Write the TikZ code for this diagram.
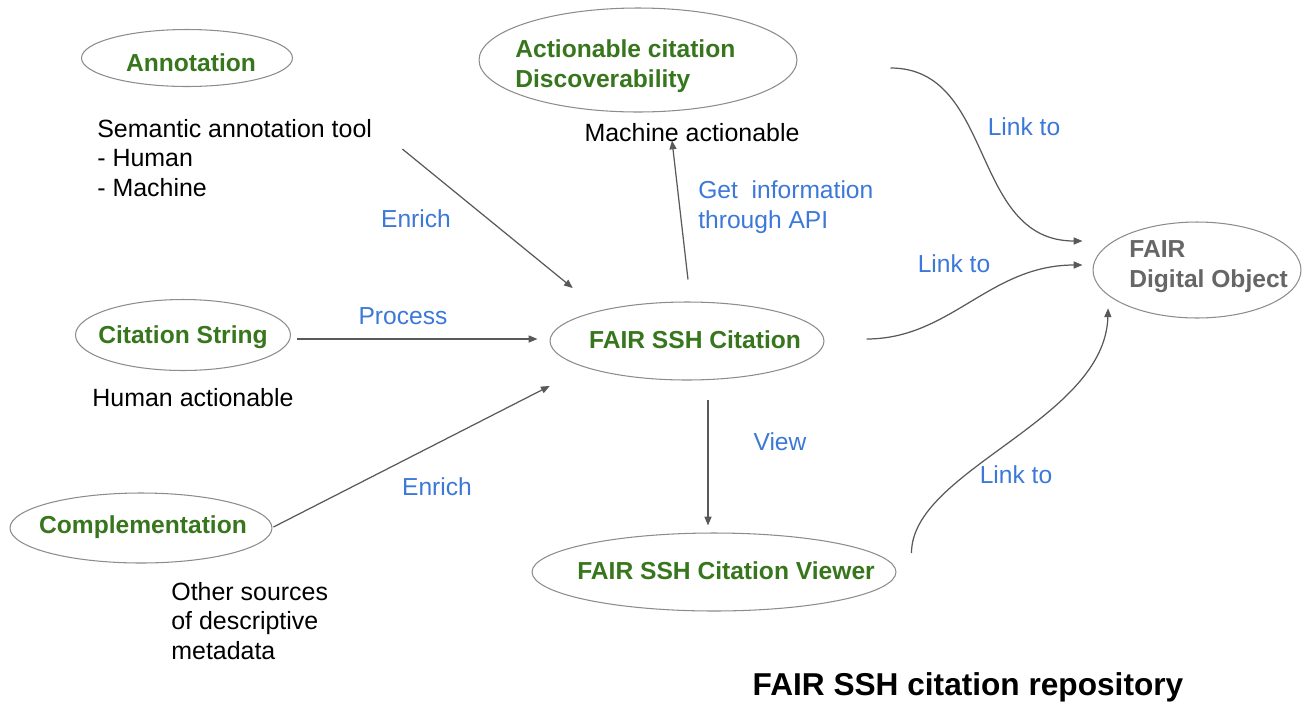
\documentclass[tikz,border=0pt]{standalone}
\usepackage{fontspec}
\setmainfont{Liberation Sans}
\usetikzlibrary{shapes.geometric,arrows.meta,calc}
\definecolor{citegreen}{HTML}{38761D}
\definecolor{linkblue}{HTML}{3C78D8}
\definecolor{fdogray}{HTML}{666666}
\definecolor{rimgray}{HTML}{8C8C8C}
\definecolor{wiregray}{HTML}{595959}
\tikzset{
  blob/.style={ellipse, draw=rimgray, line width=0.6pt, inner sep=0pt},
  blobtxt/.style={font=\fontsize{14}{17}\selectfont\bfseries, text=citegreen, align=left, inner sep=0pt},
  plain/.style={font=\fontsize{14.2}{17}\selectfont, align=left, inner sep=0pt},
  linklbl/.style={font=\fontsize{14}{17}\selectfont, text=linkblue, align=left, inner sep=0pt},
  flow/.style={draw=wiregray, line width=0.7pt, -{Triangle[length=5pt,width=4pt]}},
}
\begin{document}
\begin{tikzpicture}[x=0.02cm, y=-0.02cm]
        \useasboundingbox (0,0) rectangle (1302,704);
        % ellipses
        \node[blob, minimum width=4.22cm, minimum height=1.14cm] (annot)  at (187,58)  {};
        \node[blob, minimum width=6.36cm, minimum height=2.08cm] (acd)    at (638,60)  {};
        \node[blob, minimum width=4.30cm, minimum height=1.42cm] (citstr) at (183,335) {};
        \node[blob, minimum width=5.48cm, minimum height=1.56cm] (cit)    at (687,341) {};
        \node[blob, minimum width=5.24cm, minimum height=1.40cm] (comp)   at (141,528) {};
        \node[blob, minimum width=7.28cm, minimum height=1.56cm] (viewer) at (714,572) {};
        \node[blob, minimum width=4.16cm, minimum height=1.92cm] (fdo)    at (1197,270) {};
        % ellipse texts
        \node[blobtxt] (annottxt)  at (191,63)  {Annotation};
        \node[blobtxt, anchor=west] (acdtxt) at (515,66) {Actionable citation\\Discoverability};
        \node[blobtxt] (citstrtxt) at (183,337) {Citation String};
        \node[blobtxt] (cittxt)    at (695,340) {FAIR SSH Citation};
        \node[blobtxt] (comptxt)   at (143,527) {Complementation};
        \node[blobtxt] (viewertxt) at (726,571) {FAIR SSH Citation Viewer};
        \node[blobtxt, text=fdogray, anchor=west] (fdotxt) at (1129,267) {FAIR\\Digital Object};
        % notes
        \node[plain] (mach) at (692,133) {Machine actionable};
        \node[plain, anchor=west] (sem) at (97,158) {Semantic annotation tool\\- Human\\- Machine};
        \node[plain] (human) at (193,398) {Human actionable};
        \node[plain, anchor=west] (other) at (171,621) {Other sources\\of descriptive\\metadata};
        % connector labels
        \node[linklbl] (enrichA) at (416,219) {Enrich};
        \node[linklbl] (process) at (403,316) {Process};
        \node[linklbl] (enrichB) at (437,487) {Enrich};
        \node[linklbl, anchor=west] (getinfo) at (698,207) {Get\ \ information\\through API};
        \node[linklbl] (view) at (780,442) {View};
        \node[linklbl] (linkA) at (1024,127) {Link to};
        \node[linklbl] (linkB) at (954,264) {Link to};
        \node[linklbl] (linkC) at (1016,475) {Link to};
        % connectors
        \draw[flow] ($(sem.east)+(30,-9)$) -- ($(cit.north west)+(-17,-25)$);
        \draw[flow] ($(citstr.east)+(6,4)$) -- ($(cit.west)+(-12,-2)$);
        \draw[flow] ($(comp.east)+(1,-1)$) -- ($(cit.south west)+(-40,17)$);
        \draw[flow] ($(cit.north)+(1,-22)$) -- ($(mach.south)+(-20,-2)$);
        \draw[flow] ($(cit.south)+(21,19)$) -- ($(viewer.north)+(-6,-7)$);
        \draw[flow] ($(acd.east)+(93,8)$) .. controls +(105,0) and +(-113,0) .. ($(fdo.west)+(-10,-29)$);
        \draw[flow] ($(cit.east)+(42,-2)$) .. controls +(84,0) and +(-93,0) .. ($(fdo.west)+(-10,-5)$);
        \draw[flow] ($(viewer.east)+(15,-19)$) .. controls +(0,-83) and +(-3,112) .. ($(fdo.south west)+(-15,4)$);
        % title
        \node[font=\fontsize{18}{22}\selectfont\bfseries, inner sep=0pt] (title) at (968,687) {FAIR SSH citation repository};
\end{tikzpicture}
\end{document}
